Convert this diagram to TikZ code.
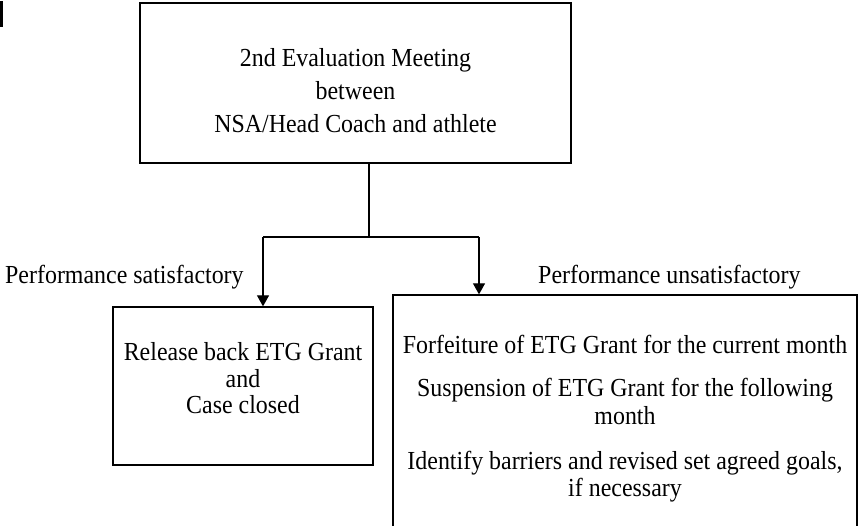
\documentclass[tikz,border=0pt]{standalone}
\usepackage{fontspec}
\setmainfont{Liberation Serif}[FakeStretch=0.92]
\usetikzlibrary{arrows.meta}
\tikzset{
  box/.style={draw=black, line width=1.3pt, rectangle, inner sep=0pt, fill=none},
  conn/.style={draw=black, line width=1.9pt},
  arr/.style={draw=black, line width=1.1pt, -{Triangle[length=11pt,width=12pt]}},
  txt/.style={anchor=base, inner sep=0pt, font=\fontsize{26}{26}\selectfont},
}
\begin{document}
\begin{tikzpicture}[x=1pt,y=-1pt]
\useasboundingbox (0,0) rectangle (859,526);
\fill[black] (0,1) rectangle (2.7,27);
% boxes
\node[box, minimum width=431pt, minimum height=160pt] (top) at (355.5,83) {};
\node[box, minimum width=260pt, minimum height=158pt] (left) at (243,386) {};
\node[box, minimum width=464pt, minimum height=245pt] (right) at (625,417.5) {};
% top box text
\node[txt] (t1) at (355.5,67) {2nd Evaluation Meeting};
\node[txt] (t2) at (355.5,100) {between};
\node[txt] (t3) at (355.5,133) {NSA/Head Coach and athlete};
% labels
\node[txt, anchor=base west] (ls) at (5,284) {Performance satisfactory};
\node[txt, anchor=base west] (lu) at (538,284) {Performance unsatisfactory};
% left box text
\node[txt] (l1) at (243,360) {Release back ETG Grant};
\node[txt] (l2) at (243,387) {and};
\node[txt] (l3) at (243,413) {Case closed};
% right box text
\node[txt] (r1) at (625,353) {Forfeiture of ETG Grant for the current month};
\node[txt] (r2) at (625,396) {Suspension of ETG Grant for the following};
\node[txt] (r3) at (625,424) {month};
\node[txt] (r4) at (625,469) {Identify barriers and revised set agreed goals,};
\node[txt] (r5) at (625,496) {if necessary};
% connectors
\coordinate (jn) at (369,237);
\coordinate (jl) at (263,237);
\coordinate (jr) at (479,237);
\draw[conn] (jn |- top.south) -- (jn);
\draw[conn] (jl) -- (jr);
\draw[arr] (jl) -- (jl |- left.north);
\draw[arr] (jr) -- (jr |- right.north);
\end{tikzpicture}
\end{document}
